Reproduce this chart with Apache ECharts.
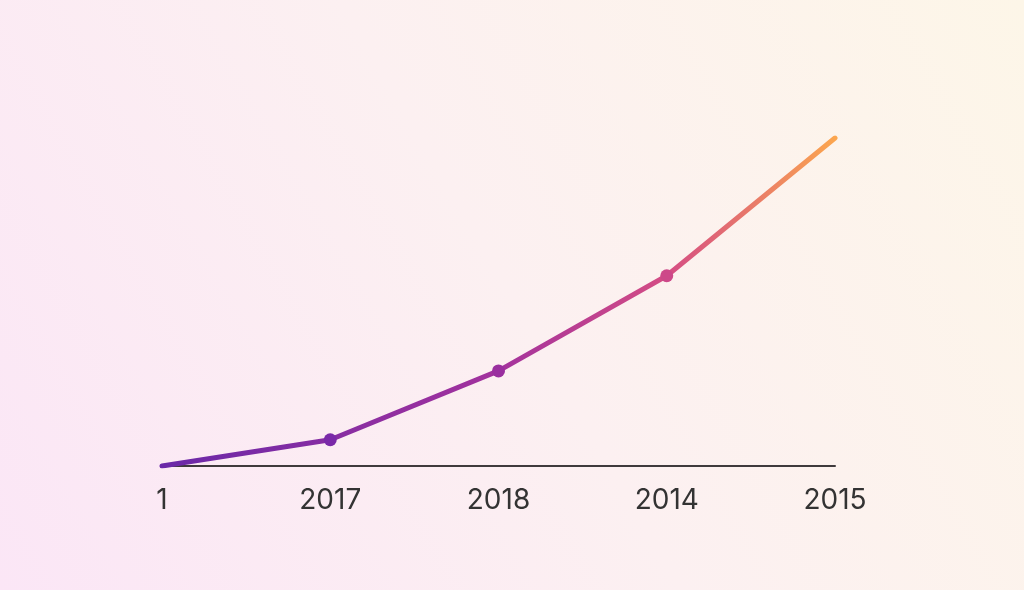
<!DOCTYPE html>
<html>
<head>
<meta charset="utf-8">
<script src="https://cdn.jsdelivr.net/npm/echarts@6/dist/echarts.min.js"></script>
<style>
  html, body { margin: 0; padding: 0; }
  #chart { width: 1024px; height: 590px; }
</style>
</head>
<body>
<div id="chart"></div>
<script>
var categories = ['1', '2017', '2018', '2014', '2015'];
var values = [0, 8, 29, 58, 100];
var pointColors = ['#6a28a8', '#7a29a8', '#9a2f9f', '#cd4889', '#fba64f'];

var chart = echarts.init(document.getElementById('chart'));

var seriesData = values.map(function (v, i) {
  var last = i === 0 || i === values.length - 1;
  return {
    value: v,
    symbol: last ? 'none' : 'circle',
    itemStyle: { color: pointColors[i] }
  };
});

var option = {
  backgroundColor: new echarts.graphic.LinearGradient(0, 1, 1, 0, [
    { offset: 0, color: '#fbe6f6' },
    { offset: 0.5, color: '#fcf0f1' },
    { offset: 1, color: '#fdf6e8' }
  ]),
  grid: { left: 162, right: 189, top: 138, bottom: 124 },
  xAxis: {
    type: 'category',
    data: categories,
    boundaryGap: false,
    axisLine: { lineStyle: { color: '#3f3a3c', width: 2 } },
    axisTick: { show: false },
    axisLabel: {
      color: '#333',
      fontSize: 28,
      fontFamily: 'Inter',
      margin: 21
    }
  },
  yAxis: {
    type: 'value',
    min: 0,
    max: 100,
    show: false
  },
  series: [
    {
      type: 'line',
      data: seriesData,
      symbolSize: 13,
      lineStyle: {
        width: 5,
        cap: 'round',
        color: new echarts.graphic.LinearGradient(0, 0, 1, 0, [
          { offset: 0, color: '#6a28a8' },
          { offset: 0.5, color: '#a3329d' },
          { offset: 0.75, color: '#d54d84' },
          { offset: 1, color: '#fca74e' }
        ])
      },
      silent: true
    }
  ]
};

chart.setOption(option);
</script>
</body>
</html>
